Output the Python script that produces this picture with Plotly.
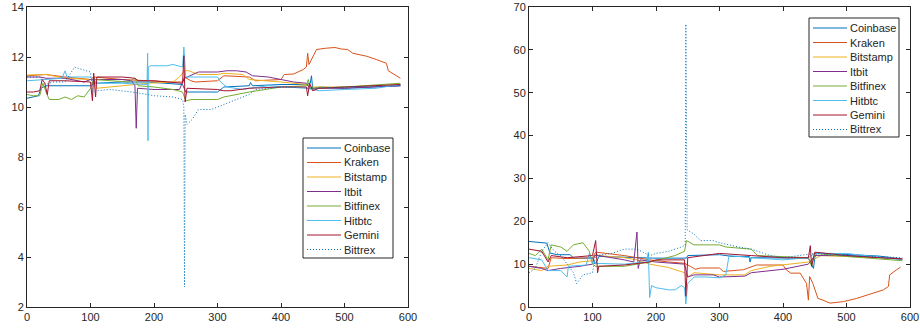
import plotly.graph_objects as go

NAMES = ["Coinbase", "Kraken", "Bitstamp", "Itbit", "Bitfinex", "Hitbtc", "Gemini", "Bittrex"]
COLORS = ["#0072BD", "#D95319", "#EDB120", "#7E2F8E", "#77AC30", "#4DBEEE", "#A2142F", "#0072BD"]

# ---------------- left panel data ----------------
coinbase_l_x = [0, 10, 18, 22, 30, 60, 100, 104, 105, 108, 150, 190, 220, 245, 250, 300, 310, 350, 352, 355, 400, 440, 446, 448, 450, 460, 500, 550, 588]
coinbase_l_y = [10.35, 10.4, 10.45, 10.75, 10.85, 10.85, 10.85, 10.9, 11.2, 10.95, 11.0, 11.0, 10.95, 10.9, 10.6, 10.6, 10.8, 10.85, 10.98, 10.85, 10.9, 10.9, 10.95, 11.25, 10.7, 10.8, 10.75, 10.8, 10.85]

kraken_l_x = [0, 20, 30, 60, 100, 105, 150, 190, 220, 245, 248, 258, 265, 300, 310, 350, 360, 400, 405, 420, 435, 440, 442, 444, 450, 456, 470, 485, 495, 505, 513, 535, 550, 566, 569, 579, 588]
kraken_l_y = [11.25, 11.28, 11.3, 11.2, 11.1, 11.2, 11.1, 11.05, 11.0, 11.0, 11.2, 11.05, 11.0, 11.05, 11.25, 11.2, 11.05, 11.1, 11.3, 11.32, 11.5, 11.6, 12.15, 11.7, 12.0, 12.3, 12.35, 12.38, 12.32, 12.3, 12.15, 12.03, 11.9, 11.75, 11.45, 11.3, 11.15]

bitstamp_l_x = [0, 20, 30, 60, 100, 108, 110, 150, 190, 230, 240, 248, 255, 270, 300, 310, 340, 350, 380, 400, 440, 450, 500, 588]
bitstamp_l_y = [11.28, 11.3, 11.3, 11.15, 11.1, 10.9, 10.75, 10.85, 10.95, 11.0, 11.2, 11.45, 11.45, 11.3, 11.3, 11.35, 11.3, 11.1, 11.05, 11.0, 10.9, 10.8, 10.8, 10.9]

itbit_l_x = [0, 20, 30, 60, 90, 100, 105, 150, 165, 170, 172, 174, 200, 240, 248, 260, 270, 300, 315, 330, 345, 355, 380, 400, 420, 440, 445, 460, 500, 588]
itbit_l_y = [11.2, 11.2, 11.15, 11.15, 11.0, 11.1, 11.1, 11.1, 11.05, 10.85, 9.15, 10.75, 10.7, 10.7, 11.15, 11.3, 11.4, 11.4, 11.45, 11.45, 11.4, 11.25, 11.2, 11.1, 11.0, 10.95, 10.75, 10.75, 10.75, 10.85]

bitfinex_l_x = [0, 10, 20, 25, 30, 35, 50, 60, 70, 80, 90, 95, 100, 105, 130, 160, 170, 175, 200, 230, 245, 250, 260, 290, 300, 310, 330, 350, 400, 440, 443, 446, 500, 588]
bitfinex_l_y = [10.5, 10.45, 10.45, 10.95, 10.6, 10.3, 10.3, 10.4, 10.3, 10.45, 10.4, 10.6, 10.75, 11.1, 11.05, 11.0, 11.15, 10.85, 10.8, 10.7, 10.6, 10.25, 10.3, 10.3, 10.3, 10.4, 10.5, 10.6, 10.8, 10.85, 11.1, 10.75, 10.8, 10.95]

hitbtc_l_x = [0, 20, 30, 55, 60, 63, 100, 105, 110, 150, 189, 190, 190.5, 191, 195, 220, 230, 245, 247, 250, 270, 300, 305, 315, 340, 350, 380, 420, 440, 450, 460, 500, 550, 588]
hitbtc_l_y = [11.05, 11.1, 11.1, 11.15, 11.45, 11.2, 11.2, 11.0, 10.95, 10.95, 10.9, 12.15, 8.65, 11.6, 11.65, 11.65, 11.7, 11.6, 12.4, 11.2, 11.2, 11.2, 11.0, 10.8, 10.7, 10.75, 10.85, 10.8, 10.75, 10.7, 10.65, 10.7, 10.75, 10.9]

gemini_l_x = [0, 10, 20, 24, 28, 32, 35, 60, 100, 103, 105, 108, 110, 150, 170, 175, 200, 230, 245, 247, 249, 252, 300, 310, 320, 350, 400, 440, 442, 445, 450, 460, 500, 588]
gemini_l_y = [10.6, 10.6, 10.65, 11.1, 10.95, 10.5, 11.05, 11.05, 11.0, 10.25, 11.35, 10.4, 11.2, 11.2, 11.15, 11.05, 11.05, 11.0, 10.95, 12.05, 10.2, 10.75, 10.7, 10.65, 10.65, 10.75, 10.8, 10.8, 10.45, 10.95, 10.65, 10.75, 10.8, 10.9]

bittrex_l_x = [0, 20, 30, 40, 60, 75, 80, 100, 103, 110, 130, 150, 165, 190, 200, 230, 245, 247, 248, 249, 252, 260, 270, 290, 300, 320, 350, 360, 400, 450, 500, 588]
bittrex_l_y = [11.2, 11.2, 10.9, 11.0, 11.0, 11.6, 11.55, 11.4, 10.6, 10.65, 10.7, 10.65, 10.6, 10.5, 10.45, 10.4, 10.3, 10.0, 2.8, 9.7, 9.3, 9.5, 9.9, 9.9, 10.0, 10.2, 10.5, 10.7, 10.8, 10.75, 10.8, 10.85]

# ---------------- right panel data ----------------
coinbase_r_x = [0, 28, 33, 44, 65, 70, 100, 105, 110, 150, 196, 248, 250, 300, 320, 347, 348, 350, 400, 440, 448, 450, 453, 500, 550, 587]
coinbase_r_y = [15.3, 14.9, 12.6, 12.2, 12.2, 11.4, 11.4, 10.0, 11.8, 11.6, 11.4, 11.4, 12.0, 12.2, 11.8, 11.8, 10.5, 11.5, 11.4, 11.4, 9.0, 11.5, 12.6, 12.3, 11.9, 11.25]

kraken_r_x = [0, 30, 35, 60, 100, 105, 150, 190, 220, 245, 254, 262, 270, 300, 306, 338, 358, 400, 405, 412, 427, 437, 440, 442, 447, 455, 463, 474, 495, 516, 537, 558, 566, 568, 579, 585]
kraken_r_y = [9.5, 9.0, 11.5, 11.3, 11.5, 12.8, 12.0, 11.0, 10.5, 10.2, 9.5, 8.8, 9.1, 9.1, 8.3, 8.7, 9.8, 9.8, 8.7, 7.9, 7.9, 5.5, 1.6, 7.1, 5.5, 2.0, 1.6, 0.9, 1.25, 2.0, 3.0, 4.0, 4.8, 7.5, 8.7, 9.3]

bitstamp_r_x = [0, 20, 30, 60, 80, 100, 105, 110, 150, 170, 190, 220, 245, 250, 260, 300, 340, 350, 380, 400, 440, 460, 500, 588]
bitstamp_r_y = [9.0, 8.5, 9.5, 9.8, 10.5, 10.8, 12.5, 12.0, 11.5, 11.0, 10.0, 9.2, 8.0, 7.0, 8.0, 7.5, 7.5, 8.5, 9.5, 9.8, 10.5, 12.0, 11.8, 11.3]

itbit_r_x = [0, 20, 30, 50, 80, 100, 103, 110, 150, 165, 170, 172, 175, 200, 245, 250, 260, 290, 300, 340, 350, 380, 400, 440, 450, 500, 588]
itbit_r_y = [9.5, 9.0, 8.5, 9.0, 9.5, 10.0, 12.0, 12.0, 11.0, 10.5, 17.5, 9.0, 11.0, 10.5, 10.0, 7.0, 7.5, 7.5, 7.0, 7.2, 8.0, 8.5, 8.8, 10.0, 12.0, 12.0, 11.2]

bitfinex_r_x = [0, 10, 20, 30, 35, 50, 60, 70, 85, 95, 100, 105, 150, 190, 230, 245, 248, 260, 300, 310, 350, 360, 440, 445, 450, 500, 588]
bitfinex_r_y = [12.5, 12.0, 13.5, 11.0, 14.5, 14.0, 13.0, 14.5, 15.0, 13.0, 10.0, 9.5, 9.5, 10.5, 12.0, 13.0, 15.5, 14.5, 14.5, 14.0, 13.5, 12.0, 11.5, 9.5, 12.5, 11.8, 10.8]

hitbtc_r_x = [0, 20, 30, 50, 60, 62, 90, 95, 100, 150, 170, 185, 188, 190, 193, 200, 220, 230, 240, 245, 247, 250, 260, 280, 300, 310, 315, 350, 400, 440, 450, 500, 588]
hitbtc_r_y = [11.5, 11.0, 8.5, 8.5, 7.0, 9.5, 9.8, 12.5, 10.2, 10.0, 10.3, 10.5, 12.8, 2.2, 5.0, 4.5, 4.0, 4.0, 5.0, 4.5, 0.7, 5.5, 7.0, 7.0, 6.8, 7.5, 12.0, 11.5, 11.0, 11.5, 12.5, 12.5, 11.0]

gemini_r_x = [0, 20, 30, 35, 60, 100, 105, 108, 110, 150, 190, 200, 245, 247, 250, 300, 350, 400, 440, 443, 445, 450, 500, 588]
gemini_r_y = [13.5, 13.0, 10.5, 12.0, 11.5, 12.0, 15.5, 8.0, 9.5, 9.8, 10.5, 11.0, 11.0, 2.5, 11.5, 12.5, 12.0, 11.5, 11.5, 14.3, 9.5, 12.8, 12.0, 11.2]

bittrex_r_x = [0, 10, 20, 30, 40, 50, 60, 70, 75, 85, 100, 105, 130, 150, 170, 190, 200, 220, 240, 246, 247, 249, 260, 270, 290, 300, 330, 350, 380, 400, 450, 500, 588]
bittrex_r_y = [8.0, 9.0, 13.0, 15.0, 13.0, 12.0, 10.0, 8.0, 5.5, 7.5, 8.0, 12.0, 12.5, 13.5, 13.5, 12.0, 12.5, 13.0, 14.0, 14.5, 66.0, 18.0, 17.0, 15.5, 15.5, 15.0, 14.0, 13.5, 12.0, 11.5, 12.5, 12.0, 11.5]

# x / y tick values
X_TICKS = [0, 100, 200, 300, 400, 500, 600]
Y_TICKS_L = [2, 4, 6, 8, 10, 12, 14]
Y_TICKS_R = [0, 10, 20, 30, 40, 50, 60, 70]

LEFT = [(coinbase_l_x, coinbase_l_y), (kraken_l_x, kraken_l_y), (bitstamp_l_x, bitstamp_l_y),
        (itbit_l_x, itbit_l_y), (bitfinex_l_x, bitfinex_l_y), (hitbtc_l_x, hitbtc_l_y),
        (gemini_l_x, gemini_l_y), (bittrex_l_x, bittrex_l_y)]
RIGHT = [(coinbase_r_x, coinbase_r_y), (kraken_r_x, kraken_r_y), (bitstamp_r_x, bitstamp_r_y),
         (itbit_r_x, itbit_r_y), (bitfinex_r_x, bitfinex_r_y), (hitbtc_r_x, hitbtc_r_y),
         (gemini_r_x, gemini_r_y), (bittrex_r_x, bittrex_r_y)]

DOT = "1px,2px"

fig = go.Figure()
for i, (xs, ys) in enumerate(LEFT):
    fig.add_trace(go.Scatter(x=xs, y=ys, mode="lines", name=NAMES[i], showlegend=False,
                             line=dict(color=COLORS[i], width=1, dash=DOT if i == 7 else "solid"),
                             xaxis="x", yaxis="y"))
for i, (xs, ys) in enumerate(RIGHT):
    fig.add_trace(go.Scatter(x=xs, y=ys, mode="lines", name=NAMES[i], showlegend=False,
                             line=dict(color=COLORS[i], width=1, dash=DOT if i == 7 else "solid"),
                             xaxis="x2", yaxis="y2"))

FONT = dict(family="Liberation Sans, Arial, sans-serif", size=11, color="#262626")
axis_common = dict(showgrid=False, zeroline=False, showline=True, mirror="ticks",
                   linecolor="#262626", linewidth=1, ticks="inside", ticklen=4,
                   tickcolor="#262626", tickfont=FONT, automargin=False,
                   ticklabeloverflow="allow")

W, H = 920, 335


def px(p):
    return min(1.0, max(0.0, p / W))


def py(p):
    return min(1.0, max(0.0, 1 - p / H))


shapes = []
annotations = []


def add_legend(box_l, box_t, box_r, box_b, line_x0, line_x1, text_x, row0, step):
    shapes.append(dict(type="rect", xref="paper", yref="paper",
                       x0=px(box_l), x1=px(box_r), y0=py(box_b), y1=py(box_t),
                       line=dict(color="#262626", width=1), fillcolor="white", layer="above"))
    for i, name in enumerate(NAMES):
        yy = py(row0 + i * step)
        shapes.append(dict(type="line", xref="paper", yref="paper",
                           x0=px(line_x0), x1=px(line_x1), y0=yy, y1=yy, layer="above",
                           line=dict(color=COLORS[i], width=1, dash=DOT if i == 7 else "solid")))
        annotations.append(dict(xref="paper", yref="paper", x=px(text_x), y=yy,
                                xanchor="left", yanchor="middle", text=name, showarrow=False,
                                font=FONT))


add_legend(303, 138, 393, 258, 307, 341, 342, 148, 14.5)
add_legend(809, 18, 899, 137, 813, 847, 848, 28, 14.5)

fig.update_layout(
    width=W, height=H, margin=dict(l=0, r=0, t=0, b=0, autoexpand=False),
    paper_bgcolor="white", plot_bgcolor="white", font=FONT,
    xaxis=dict(domain=[px(27), px(408)], range=[0, 600], tickvals=X_TICKS, anchor="y", **axis_common),
    yaxis=dict(domain=[py(307), py(7)], range=[2, 14], tickvals=Y_TICKS_L, anchor="x", **axis_common),
    xaxis2=dict(domain=[px(529), px(910)], range=[0, 600], tickvals=X_TICKS, anchor="y2", **axis_common),
    yaxis2=dict(domain=[py(307), py(7)], range=[0, 70], tickvals=Y_TICKS_R, anchor="x2", **axis_common),
    shapes=shapes, annotations=annotations,
    showlegend=False,
)

# the page body has a default 8px margin; remove it so the figure sits at the window origin
fig.write_html("out.html", config={"displayModeBar": False},
               post_script="document.body.style.margin='0px';")
